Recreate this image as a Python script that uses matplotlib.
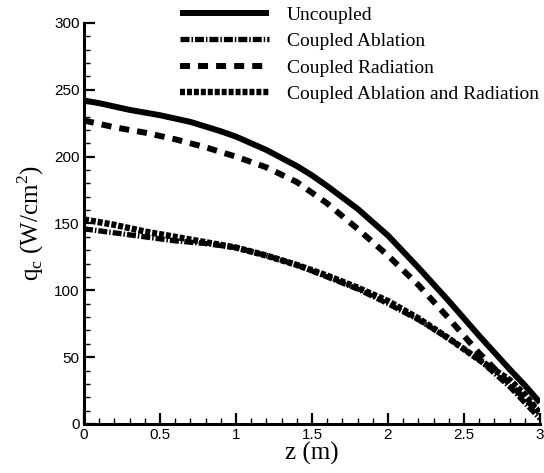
import matplotlib
matplotlib.use("Agg")
import matplotlib.pyplot as plt
from matplotlib.ticker import MultipleLocator

plt.rcParams['lines.scale_dashes'] = False

z_unc = [0.0, 0.1, 0.2, 0.3, 0.5, 0.7, 0.9, 1.0, 1.2, 1.4, 1.5, 1.6, 1.8, 2.0, 2.2, 2.4, 2.6, 2.8, 2.9, 3.0]
q_unc = [242, 240, 237.5, 235, 231, 226, 219, 215, 205, 193, 186, 178, 161, 141, 117, 92, 66, 41, 29, 16]

z_rad = [0.0, 0.2, 0.4, 0.6, 0.8, 1.0, 1.2, 1.4, 1.6, 1.8, 2.0, 2.2, 2.4, 2.6, 2.8, 2.9, 3.0]
q_rad = [227, 222, 218, 213, 207, 200, 192, 181, 165, 146, 126, 104, 79, 53, 30, 19, 8]

z_abl = [0.0, 0.2, 0.4, 0.6, 0.8, 1.0, 1.2, 1.4, 1.6, 1.8, 2.0, 2.2, 2.4, 2.6, 2.8, 2.9, 3.0]
q_abl = [146, 143, 140, 137, 135, 132, 126, 119, 110, 101, 90, 78, 64, 48, 28, 16, 4]

z_ar = [0.0, 0.2, 0.4, 0.6, 0.8, 1.0, 1.2, 1.4, 1.6, 1.8, 2.0, 2.2, 2.4, 2.6, 2.8, 2.9, 3.0]
q_ar = [153, 149, 144, 140, 136, 132, 126, 119, 111, 102, 92, 79, 64, 48, 33, 22, 8]

labels = ["Uncoupled", "Coupled Ablation", "Coupled Radiation", "Coupled Ablation and Radiation"]

fig = plt.figure(figsize=(5.44, 4.73), dpi=100)
ax = fig.add_axes([0.1544, 0.1036, 0.9926 - 0.1544, 0.9514 - 0.1036])

ax.plot(z_unc, q_unc, color='black', lw=4.3, solid_capstyle='butt', label=labels[0])
ax.plot(z_abl, q_abl, color='black', lw=3.8, dashes=(6.5, 1.4, 1.1, 1.4), label=labels[1])
ax.plot(z_rad, q_rad, color='black', lw=4.3, dashes=(7.2, 5.8), label=labels[2])
ax.plot(z_ar, q_ar, color='black', lw=4.6, dashes=(3.6, 1.4), label=labels[3])

ax.set_xlim(0, 3)
ax.set_ylim(0, 300)
ax.xaxis.set_major_locator(MultipleLocator(0.5))
ax.xaxis.set_minor_locator(MultipleLocator(0.1))
ax.yaxis.set_major_locator(MultipleLocator(50))
ax.yaxis.set_minor_locator(MultipleLocator(10))
ax.set_xticks([0, 0.5, 1, 1.5, 2, 2.5, 3])
ax.set_xticklabels(['0', '0.5', '1', '1.5', '2', '2.5', '3'])

for s in ['top', 'right']:
    ax.spines[s].set_visible(False)
for s in ['left', 'bottom']:
    ax.spines[s].set_linewidth(2.2)

ax.tick_params(which='major', direction='in', length=8, width=1.6, pad=3,
               labelsize=11, top=False, right=False)
ax.tick_params(which='minor', direction='in', length=4.5, width=1.0, top=False, right=False)
for lab in ax.get_xticklabels() + ax.get_yticklabels():
    lab.set_fontfamily('Liberation Sans')

ax.set_xlabel('z (m)', fontfamily='Liberation Serif', fontsize=18, labelpad=0)
ax.set_ylabel(r'q$_\mathregular{c}$ (W/cm$^\mathregular{2}$)', fontfamily='Liberation Serif', fontsize=18, labelpad=6)

leg = fig.legend(loc='upper left', bbox_to_anchor=(180 / 544, 1 - 6 / 473), frameon=False,
                 borderpad=0, borderaxespad=0, handlelength=4.6, handletextpad=0.9,
                 labelspacing=0.46, prop={'family': 'Liberation Serif', 'size': 14})

fig.savefig('out.png', dpi=100)
